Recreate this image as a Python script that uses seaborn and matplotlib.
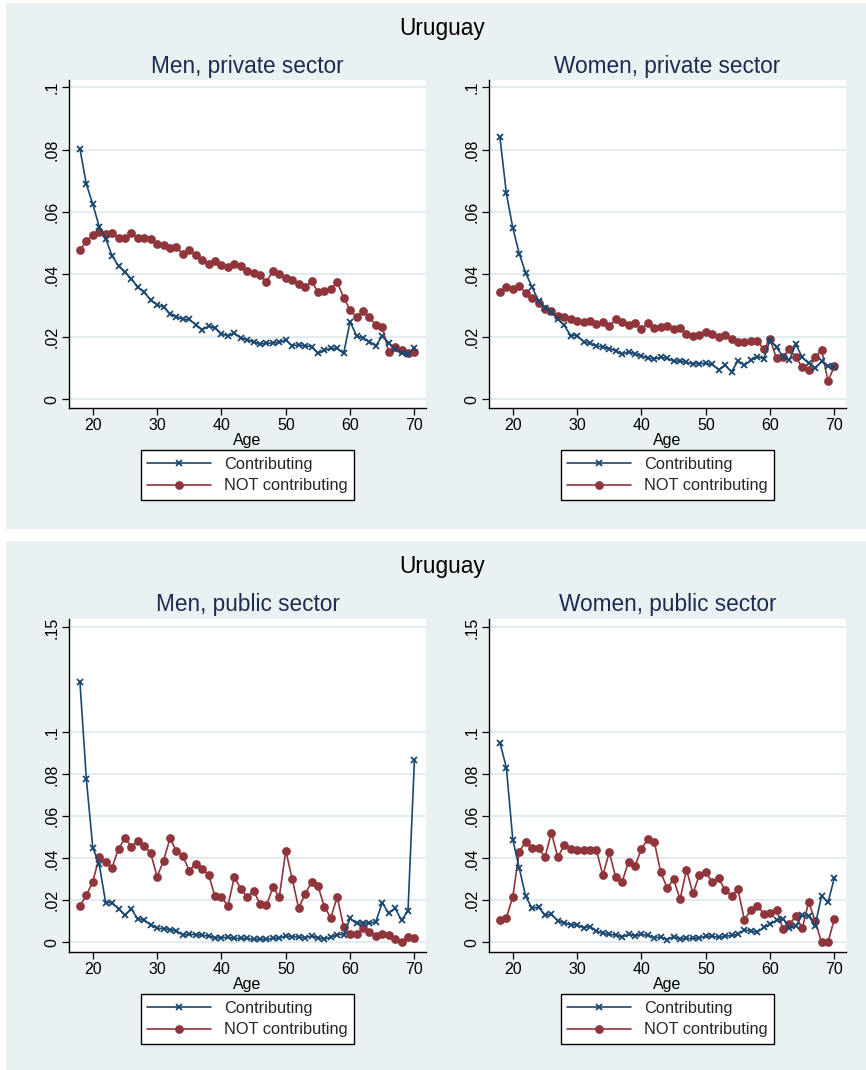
import numpy as np
import pandas as pd
import matplotlib
matplotlib.use("Agg")
import matplotlib.pyplot as plt
from matplotlib.patches import Rectangle
from matplotlib.ticker import FuncFormatter
import seaborn as sns

ages = list(range(18, 71))

men_priv_contrib = [0.0802, 0.0689, 0.0625, 0.0553, 0.0514, 0.0460, 0.0427, 0.0407, 0.0386, 0.0359,
                    0.0343, 0.0318, 0.0303, 0.0296, 0.0274, 0.0265, 0.0256, 0.0256, 0.0239, 0.0223,
                    0.0234, 0.0229, 0.0210, 0.0203, 0.0212, 0.0196, 0.0191, 0.0183, 0.0177, 0.0179,
                    0.0181, 0.0182, 0.0190, 0.0172, 0.0174, 0.0171, 0.0169, 0.0147, 0.0157, 0.0163,
                    0.0163, 0.0147, 0.0249, 0.0203, 0.0196, 0.0185, 0.0171, 0.0203, 0.0179, 0.0160,
                    0.0147, 0.0144, 0.0165]
men_priv_not = [0.0479, 0.0506, 0.0526, 0.0535, 0.0528, 0.0534, 0.0516, 0.0516, 0.0532, 0.0518,
                0.0517, 0.0513, 0.0497, 0.0494, 0.0485, 0.0489, 0.0464, 0.0478, 0.0462, 0.0446,
                0.0433, 0.0443, 0.0429, 0.0425, 0.0434, 0.0428, 0.0410, 0.0404, 0.0397, 0.0377,
                0.0410, 0.0400, 0.0388, 0.0382, 0.0369, 0.0359, 0.0379, 0.0344, 0.0346, 0.0353,
                0.0375, 0.0326, 0.0286, 0.0263, 0.0283, 0.0262, 0.0238, 0.0231, 0.0153, 0.0166,
                0.0158, 0.0147, 0.0150]
women_priv_contrib = [0.0839, 0.0660, 0.0549, 0.0467, 0.0405, 0.0359, 0.0316, 0.0294, 0.0281, 0.0256,
                      0.0237, 0.0204, 0.0204, 0.0185, 0.0179, 0.0171, 0.0167, 0.0162, 0.0156, 0.0144,
                      0.0152, 0.0145, 0.0139, 0.0131, 0.0130, 0.0134, 0.0132, 0.0122, 0.0123, 0.0118,
                      0.0114, 0.0114, 0.0115, 0.0112, 0.0094, 0.0109, 0.0088, 0.0123, 0.0109, 0.0125,
                      0.0137, 0.0130, 0.0190, 0.0166, 0.0137, 0.0126, 0.0176, 0.0134, 0.0115, 0.0099,
                      0.0121, 0.0105, 0.0103]
women_priv_not = [0.0345, 0.0359, 0.0354, 0.0364, 0.0340, 0.0326, 0.0307, 0.0288, 0.0283, 0.0268,
                  0.0262, 0.0256, 0.0252, 0.0247, 0.0251, 0.0240, 0.0246, 0.0235, 0.0256, 0.0246,
                  0.0238, 0.0243, 0.0225, 0.0243, 0.0228, 0.0231, 0.0236, 0.0226, 0.0228, 0.0208,
                  0.0203, 0.0206, 0.0217, 0.0209, 0.0200, 0.0206, 0.0192, 0.0185, 0.0183, 0.0186,
                  0.0188, 0.0160, 0.0192, 0.0131, 0.0137, 0.0160, 0.0134, 0.0103, 0.0094, 0.0135,
                  0.0158, 0.0059, 0.0105]
men_pub_contrib = [0.1241, 0.0776, 0.0451, 0.0371, 0.0189, 0.0189, 0.0160, 0.0129, 0.0159, 0.0111,
                   0.0106, 0.0083, 0.0067, 0.0065, 0.0060, 0.0054, 0.0035, 0.0038, 0.0037, 0.0033,
                   0.0030, 0.0022, 0.0022, 0.0024, 0.0019, 0.0019, 0.0019, 0.0014, 0.0016, 0.0014,
                   0.0019, 0.0021, 0.0030, 0.0027, 0.0025, 0.0022, 0.0030, 0.0021, 0.0016, 0.0024,
                   0.0037, 0.0037, 0.0114, 0.0090, 0.0094, 0.0090, 0.0098, 0.0189, 0.0138, 0.0162,
                   0.0106, 0.0149, 0.0867]
men_pub_not = [0.0173, 0.0224, 0.0289, 0.0406, 0.0381, 0.0356, 0.0446, 0.0495, 0.0456, 0.0484,
               0.0460, 0.0424, 0.0313, 0.0389, 0.0495, 0.0435, 0.0411, 0.0341, 0.0375, 0.0351,
               0.0322, 0.0219, 0.0217, 0.0173, 0.0311, 0.0256, 0.0214, 0.0244, 0.0184, 0.0176,
               0.0262, 0.0217, 0.0437, 0.0302, 0.0163, 0.0230, 0.0286, 0.0268, 0.0170, 0.0117,
               0.0217, 0.0073, 0.0038, 0.0038, 0.0067, 0.0048, 0.0032, 0.0040, 0.0033, 0.0014,
               0.0000, 0.0027, 0.0022]
women_pub_contrib = [0.0951, 0.0832, 0.0489, 0.0354, 0.0219, 0.0162, 0.0168, 0.0130, 0.0133, 0.0103,
                     0.0094, 0.0083, 0.0083, 0.0070, 0.0075, 0.0054, 0.0043, 0.0038, 0.0035, 0.0025,
                     0.0038, 0.0032, 0.0038, 0.0033, 0.0022, 0.0025, 0.0013, 0.0027, 0.0016, 0.0019,
                     0.0019, 0.0021, 0.0029, 0.0030, 0.0024, 0.0029, 0.0033, 0.0038, 0.0059, 0.0054,
                     0.0048, 0.0071, 0.0086, 0.0105, 0.0113, 0.0067, 0.0078, 0.0129, 0.0125, 0.0079,
                     0.0221, 0.0190, 0.0308]
women_pub_not = [0.0106, 0.0116, 0.0217, 0.0432, 0.0479, 0.0448, 0.0451, 0.0405, 0.0522, 0.0405,
                 0.0463, 0.0443, 0.0441, 0.0441, 0.0440, 0.0440, 0.0319, 0.0429, 0.0310, 0.0289,
                 0.0384, 0.0363, 0.0446, 0.0492, 0.0479, 0.0333, 0.0259, 0.0300, 0.0205, 0.0346,
                 0.0233, 0.0321, 0.0333, 0.0287, 0.0306, 0.0248, 0.0222, 0.0252, 0.0108, 0.0154,
                 0.0175, 0.0137, 0.0138, 0.0154, 0.0065, 0.0086, 0.0124, 0.0068, 0.0192, 0.0102,
                 0.0000, 0.0000, 0.0113]

country = "Uruguay"
subtitles = ["Men, private sector", "Women, private sector", "Men, public sector", "Women, public sector"]
series_labels = ["Contributing", "NOT contributing"]
xticks = [20, 30, 40, 50, 60, 70]
yticks_priv = [0, 0.02, 0.04, 0.06, 0.08, 0.1]
yticks_pub = [0, 0.02, 0.04, 0.06, 0.08, 0.1, 0.15]

sns.set_theme(style="white")
plt.rcParams['font.family'] = ['Liberation Sans', 'DejaVu Sans']

W, H = 866, 1070
fig = plt.figure(figsize=(W / 100, H / 100), dpi=100)
fig.patch.set_facecolor("white")

BG = "#eaf1f3"
BLUE = "#1a476f"
RED = "#90353b"
NAVY = "#1e2b50"
GRID = "#dde8eb"

def fx(px):
    return px / W

def fy(py):
    return 1 - py / H

# panel backgrounds
fig.add_artist(Rectangle((fx(6), fy(529)), fx(860), 526 / H, transform=fig.transFigure,
                         facecolor=BG, edgecolor="none", zorder=0))
fig.add_artist(Rectangle((fx(6), 0), fx(860), fy(541), transform=fig.transFigure,
                         facecolor=BG, edgecolor="none", zorder=0))

def fmt(v, pos=None):
    if abs(v) < 1e-12:
        return "0"
    s = f"{v:g}"
    return s.replace("0.", ".", 1)

panels = [
    (69, 80, 426, 408, men_priv_contrib, men_priv_not, subtitles[0], yticks_priv, (-0.0028, 0.1023)),
    (489, 80, 846, 408, women_priv_contrib, women_priv_not, subtitles[1], yticks_priv, (-0.0028, 0.1023)),
    (69, 619, 426, 952, men_pub_contrib, men_pub_not, subtitles[2], yticks_pub, (-0.0046, 0.154)),
    (489, 619, 846, 952, women_pub_contrib, women_pub_not, subtitles[3], yticks_pub, (-0.0046, 0.154)),
]

for (x0, y0, x1, y1, c, n, title, yt, ylim) in panels:
    ax = fig.add_axes([fx(x0), fy(y1), fx(x1 - x0), (y1 - y0) / H])
    ax.set_facecolor("white")
    df = pd.DataFrame({"Age": ages, "c": c, "n": n})
    sns.lineplot(data=df, x="Age", y="c", ax=ax, color=BLUE, marker="x", markersize=4,
                 markeredgewidth=1.3, markeredgecolor=BLUE, linewidth=1.2,
                 label=series_labels[0], zorder=3)
    sns.lineplot(data=df, x="Age", y="n", ax=ax, color=RED, marker="o", markersize=6.3,
                 markeredgewidth=0, markerfacecolor=RED, linewidth=1.2,
                 label=series_labels[1], zorder=2)
    ax.set_xlim(16.3, 71.8)
    ax.set_ylim(*ylim)
    ax.set_xticks(xticks)
    ax.set_yticks(yt)
    ax.yaxis.set_major_formatter(FuncFormatter(fmt))
    ax.grid(axis="y", color=GRID, linewidth=1.2)
    ax.grid(axis="x", visible=False)
    for s in ["top", "right"]:
        ax.spines[s].set_visible(False)
    for s in ["left", "bottom"]:
        ax.spines[s].set_color("black")
        ax.spines[s].set_linewidth(1.0)
    ax.tick_params(axis="both", direction="out", length=5, width=0.9, color="black",
                   labelsize=11.5, labelcolor="black", pad=2, bottom=True, left=True)
    for lab in ax.get_yticklabels():
        lab.set_rotation(90)
        lab.set_va("center")
    ax.set_ylabel("")
    ax.set_xlabel("Age", fontsize=11.5, labelpad=0, color="black")
    ax.text(0.5, 1 + 14 / (y1 - y0), title, transform=ax.transAxes, ha="center", va="center",
            fontsize=16.3, color=NAVY)
    handles, labels = ax.get_legend_handles_labels()
    ax.legend(handles, labels, loc="center",
              bbox_to_anchor=(fx((x0 + x1) / 2), fy(y1 + 67)),
              bbox_transform=fig.transFigure, frameon=True, fancybox=False,
              edgecolor="black", framealpha=1, fontsize=11.8, handlelength=3.9,
              handletextpad=0.8, labelspacing=0.42, borderpad=0.4, borderaxespad=0)
    ax.get_legend().get_frame().set_linewidth(1.0)

fig.text(fx(442), fy(28), country, ha="center", va="center", fontsize=16.3, color="black")
fig.text(fx(442), fy(566), country, ha="center", va="center", fontsize=16.3, color="black")

fig.savefig("out.png", dpi=100, facecolor="white")
